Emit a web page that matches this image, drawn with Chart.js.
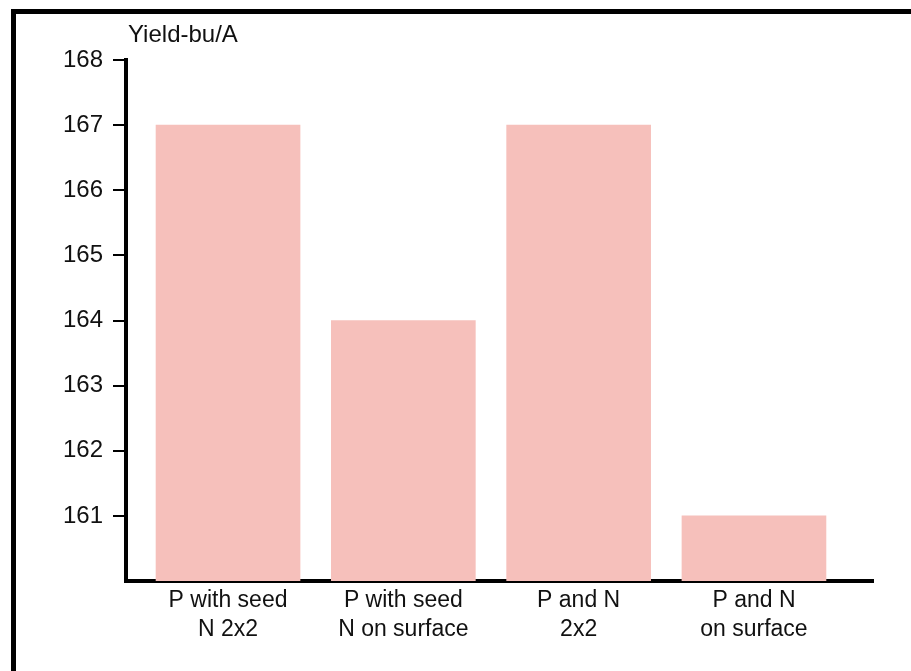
<!DOCTYPE html>
<html>
<head>
<meta charset="utf-8">
<script src="https://cdn.jsdelivr.net/npm/chart.js@4/dist/chart.umd.min.js"></script>
<style>
  html, body { margin: 0; padding: 0; background: #fff; }
  #wrap { position: relative; width: 911px; height: 671px; overflow: hidden; }
  #frame { position: absolute; left: 11px; top: 9px; width: 960px; height: 720px;
           border-left: 5px solid #000; border-top: 5px solid #000; box-sizing: border-box; }
  canvas { position: absolute; left: 0; top: 0; }
</style>
</head>
<body>
<div id="wrap">
  <canvas id="chart" width="911" height="671"></canvas>
  <div id="frame"></div>
</div>
<script>
// Corn yield by placement of P and N
const categories = [
  ["P with seed", "N 2x2"],
  ["P with seed", "N on surface"],
  ["P and N", "2x2"],
  ["P and N", "on surface"]
];
const yields = [167, 164, 167, 161];
const yTicks = [161, 162, 163, 164, 165, 166, 167, 168];
const yTitle = "Yield-bu/A";

const FONT = "'Liberation Sans', Arial, sans-serif";

const titlePlugin = {
  id: 'unitTitle',
  afterDraw(chart) {
    const ctx = chart.ctx;
    ctx.save();
    ctx.font = "24px " + FONT;
    ctx.fillStyle = '#111';
    ctx.textBaseline = 'alphabetic';
    ctx.textAlign = 'left';
    ctx.fillText(yTitle, chart.chartArea.left + 2, 42);
    ctx.restore();
  }
};

new Chart(document.getElementById('chart'), {
  type: 'bar',
  data: {
    datasets: [{
      data: yields.map((v, i) => ({ x: i, y: v })),
      backgroundColor: '#f6c0bb',
      borderWidth: 0,
      barThickness: 144
    }]
  },
  options: {
    responsive: false,
    animation: false,
    layout: { padding: { left: 0, right: 38, top: 60, bottom: 0 } },
    plugins: { legend: { display: false }, tooltip: { enabled: false }, title: { display: false } },
    scales: {
      x: {
        type: 'linear',
        offset: false,
        min: -0.582,
        max: 3.679,
        afterBuildTicks(scale) {
          scale.ticks = categories.map((c, i) => ({ value: i }));
        },
        afterFit(scale) { scale.height = 90; },
        ticks: {
          autoSkip: false,
          maxRotation: 0,
          padding: 5,
          color: '#111',
          font: { family: FONT, size: 23, lineHeight: 1.26 },
          callback: (v) => categories[v] || ''
        },
        grid: { display: true, offset: false, drawOnChartArea: false, drawTicks: false },
        border: { display: true, color: '#000', width: 4 }
      },
      y: {
        min: 160,
        max: 168,
        afterBuildTicks(scale) {
          scale.ticks = yTicks.map(v => ({ value: v }));
        },
        afterFit(scale) { scale.width = 126; },
        ticks: {
          padding: 10,
          color: '#111',
          font: { family: FONT, size: 24 }
        },
        grid: { display: true, drawOnChartArea: false, drawTicks: true, tickLength: 13, color: '#000', lineWidth: 2 },
        border: { display: true, color: '#000', width: 4 }
      }
    }
  },
  plugins: [titlePlugin]
});
</script>
</body>
</html>
